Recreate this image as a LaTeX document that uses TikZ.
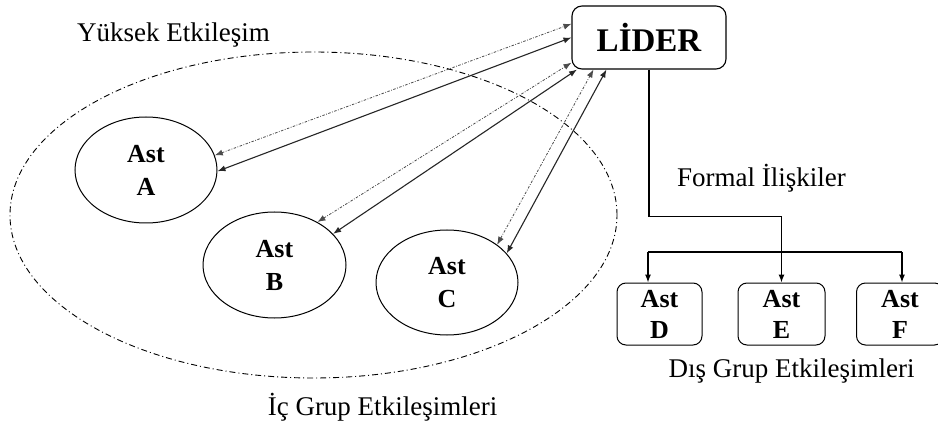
\documentclass[tikz,border=0pt]{standalone}
\usepackage{fontspec}
\setmainfont{Liberation Serif}
\usetikzlibrary{shapes.geometric,arrows.meta,calc}
\begin{document}
\begin{tikzpicture}[x=1pt,y=-1pt,
  line width=1pt,
  tip/.style={-{Latex[length=8pt,width=6pt]}},
  both/.style={{Latex[length=8pt,width=6pt]}-{Latex[length=8pt,width=6pt]}},
  solidpair/.style={both,line width=1.1pt,draw=black!85},
  dotpair/.style={both,line width=0.8pt,draw=black!70,dash pattern=on 2.5pt off 1.5pt on 0.8pt off 1.5pt},
  astell/.style={ellipse,draw,line width=1pt,inner sep=0pt,minimum width=142pt,minimum height=106pt,
     align=center,font=\fontsize{26}{33}\selectfont\bfseries},
  astbox/.style={rectangle,rounded corners=9pt,draw,line width=1pt,inner sep=0pt,minimum width=86pt,minimum height=62pt,
     align=center,font=\fontsize{26}{31}\selectfont\bfseries},
  lbl/.style={anchor=base,inner sep=0pt,font=\fontsize{27}{32}\selectfont}
]
\clip (0,0) rectangle (938,425);
\fill[white] (0,0) rectangle (938,425);

% outer group ellipse
\node[ellipse,draw,line width=0.9pt,minimum width=607pt,minimum height=326pt,inner sep=0pt,
      dash pattern=on 6pt off 3pt on 1pt off 3pt] (grp) at (313.5,215) {};

% leader
\node[rectangle,rounded corners=10pt,draw,line width=1.1pt,minimum width=154pt,minimum height=63pt,inner sep=0pt,
      font=\fontsize{33}{38}\selectfont\bfseries] (L) at (649,37.5) {LİDER};

% subordinates (in-group)
\node[astell] (A) at (146,170) {Ast\\A};
\node[astell,minimum width=143pt] (B) at (274.5,265) {Ast\\B};
\node[astell,minimum height=105pt] (C) at (447,282.5) {Ast\\C};

% subordinates (out-group)
\node[astbox,minimum width=85pt] (D) at (659.5,314) {Ast\\D};
\node[astbox,minimum width=87pt] (E) at (781.5,314) {Ast\\E};
\node[astbox,minimum width=87pt] (F) at (900,314) {Ast\\F};

% labels
\node[lbl] (t1) at (173.5,42) {Yüksek Etkileşim};
\node[lbl] (t2) at (761.5,186) {Formal İlişkiler};
\node[lbl] (t3) at (382.5,415) {İç Grup Etkileşimleri};
\node[lbl] (t4) at (791.5,377) {Dış Grup Etkileşimleri};

% high interaction pairs
\draw[dotpair] (A.12.6) -- (L.170);
\draw[solidpair] (A.-1.5) -- (L.180);
\draw[dotpair] (B.45) -- (L.198.3);
\draw[solidpair] (B.28.7) -- (L.204.5);
\draw[dotpair] (C.37.8) -- (L.210.6);
\draw[solidpair] (C.26.6) -- (L.217.9);

% formal relations tree
\draw[tip,line width=1.1pt] (L.south) -- ++(0,147) -| (E.north);
\coordinate (bl) at (648,252);
\coordinate (br) at (902,252);
\draw[line width=1.1pt] (bl) -- (br);
\draw[tip,line width=1.1pt] (bl) -- (bl |- D.north);
\draw[tip,line width=1.1pt] (br) -- (br |- F.north);
\end{tikzpicture}
\end{document}
